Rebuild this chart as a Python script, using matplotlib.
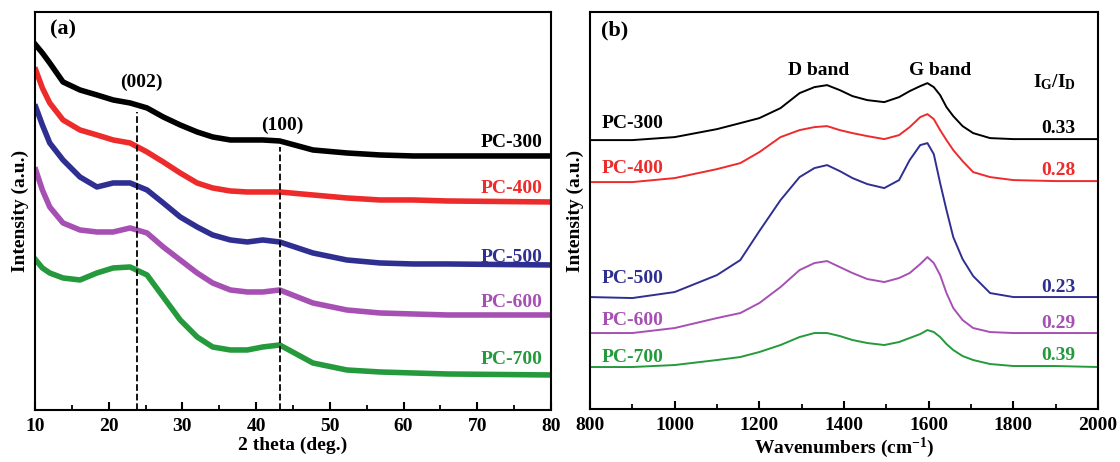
import numpy as np
import matplotlib
matplotlib.use("Agg")
import matplotlib.pyplot as plt
from matplotlib.ticker import MultipleLocator

plt.rcParams['font.family'] = ['Liberation Serif', 'DejaVu Serif']
plt.rcParams['font.weight'] = 'bold'
plt.rcParams['axes.labelweight'] = 'bold'
plt.rcParams['mathtext.fontset'] = 'custom'
plt.rcParams['mathtext.rm'] = 'Liberation Serif:bold'
plt.rcParams['mathtext.it'] = 'Liberation Serif:bold'
plt.rcParams['mathtext.bf'] = 'Liberation Serif:bold'

# --- XRD data (panel a) ---
two_theta = [10.1, 11.0, 12.0, 13.8, 16.1, 18.4, 20.6, 22.9, 25.2, 27.4, 29.7, 32.0,
             34.1, 36.5, 38.8, 40.9, 43.2, 47.7, 52.3, 56.8, 61.3, 65.9, 80.0]
xrd_300 = [365, 357, 347, 328, 320, 315, 310, 307, 302, 293, 285, 278,
           273, 270, 270, 270, 269, 260, 257, 255, 254, 254, 254]
xrd_400 = [340, 322, 307, 290, 280, 275, 270, 267, 258, 248, 237, 227,
           222, 219, 218, 218, 218, 215, 212, 210, 210, 209, 208]
xrd_500 = [303, 285, 267, 250, 233, 223, 227, 227, 220, 207, 193, 183,
           175, 170, 168, 170, 168, 157, 150, 147, 146, 146, 145]
xrd_600 = [240, 220, 203, 187, 180, 178, 178, 182, 177, 163, 150, 137,
           127, 120, 118, 118, 120, 107, 100, 97, 96, 95, 95]
xrd_700 = [150, 142, 137, 132, 130, 137, 142, 143, 135, 113, 90, 73,
           63, 60, 60, 63, 65, 47, 40, 38, 37, 36, 35]

# --- Raman data (panel b) ---
wavenumber = [800, 900, 1000, 1100, 1155, 1200, 1250, 1295, 1330, 1360, 1390,
              1420, 1455, 1495, 1530, 1555, 1580, 1597, 1612, 1627, 1642, 1658,
              1680, 1705, 1745, 1800, 1900, 2000]
raman_300 = [269, 269, 272, 280, 286, 291, 301, 316, 322, 324, 319,
             313, 309, 307, 312, 318, 323, 326, 322, 314, 302, 293,
             283, 276, 271, 270, 270, 270]
raman_400 = [227, 227, 231, 240, 246, 257, 272, 279, 282, 283, 279,
             276, 273, 270, 274, 282, 292, 295, 290, 279, 269, 259,
             248, 237, 232, 229, 228, 228]
raman_500 = [112, 111, 117, 134, 149, 178, 209, 232, 241, 244, 238,
             231, 225, 221, 229, 249, 264, 266, 255, 226, 199, 172,
             150, 133, 116, 112, 112, 112]
raman_600 = [76, 76, 81, 91, 96, 106, 122, 139, 146, 148, 142,
             136, 130, 127, 131, 136, 145, 152, 146, 134, 116, 101,
             89, 81, 77, 76, 76, 76]
raman_700 = [42, 42, 44, 49, 52, 57, 64, 72, 76, 76, 73,
             69, 66, 64, 67, 71, 75, 79, 77, 72, 65, 59,
             53, 49, 45, 43, 43, 42]

samples = ['PC-300', 'PC-400', 'PC-500', 'PC-600', 'PC-700']
ratios = ['0.33', '0.28', '0.23', '0.29', '0.39']
colors = ['black', '#ee2b2b', '#2f2f92', '#a650b4', '#259a3c']

xrd = [xrd_300, xrd_400, xrd_500, xrd_600, xrd_700]
raman = [raman_300, raman_400, raman_500, raman_600, raman_700]

xrd_label_y = [267, 221, 152, 107, 50]
raman_label_y = [286, 241, 131, 89, 52]
ratio_y = [281, 239, 122, 86, 54]

fig = plt.figure(figsize=(11.2, 4.62), dpi=100)
ax1 = fig.add_axes([0.03125, 0.1126, 0.4607, 0.8615])
ax2 = fig.add_axes([0.5268, 0.1147, 0.4536, 0.8590])

fs = 14

# panel (a)
for y, c, name, ly in zip(xrd, colors, samples, xrd_label_y):
    ax1.plot(two_theta, y, color=c, lw=4, solid_joinstyle='round')
    ax1.text(78.9, ly, name, color=c, fontsize=fs, fontweight='bold',
             ha='right', va='center')

ax1.plot([23.8, 23.8], [0, 298], 'k--', lw=1.3)
ax1.plot([43.2, 43.2], [0, 263], 'k--', lw=1.3)
ax1.text(24.4, 328, '(002)', fontsize=fs, ha='center', va='center')
ax1.text(43.6, 285, '(100)', fontsize=fs, ha='center', va='center')
ax1.text(13.8, 380, '(a)', fontsize=16, ha='center', va='center')

ax1.set_xlim(10, 80)
ax1.set_ylim(0, 398)
ax1.xaxis.set_major_locator(MultipleLocator(10))
ax1.xaxis.set_minor_locator(MultipleLocator(5))
ax1.set_yticks([])
ax1.set_xlabel('2 theta (deg.)', fontsize=fs, labelpad=1)
ax1.set_ylabel('Intensity (a.u.)', fontsize=fs, labelpad=4)

# panel (b)
for y, c, name, ly, r, ry in zip(raman, colors, samples, raman_label_y, ratios, ratio_y):
    ax2.plot(wavenumber, y, color=c, lw=1.4, solid_joinstyle='round')
    ax2.text(828, ly, name, color=c, fontsize=fs, fontweight='bold',
             ha='left', va='center')
    ax2.text(1946, ry, r, color=c, fontsize=fs, fontweight='bold',
             ha='right', va='center')

ax2.text(1341, 339, 'D band', fontsize=fs, ha='center', va='center')
ax2.text(1627, 339, 'G band', fontsize=fs, ha='center', va='center')
ax2.text(1898, 327, r'$I_G/I_D$', fontsize=fs, ha='center', va='center')
ax2.text(857, 379, '(b)', fontsize=16, ha='center', va='center')

ax2.set_xlim(800, 2000)
ax2.set_ylim(0, 397)
ax2.xaxis.set_major_locator(MultipleLocator(200))
ax2.xaxis.set_minor_locator(MultipleLocator(100))
ax2.set_yticks([])
ax2.set_xlabel(r'Wavenumbers (cm$^{-1}$)', fontsize=fs, labelpad=1)
ax2.set_ylabel('Intensity (a.u.)', fontsize=fs, labelpad=4)

for ax in (ax1, ax2):
    for s in ax.spines.values():
        s.set_linewidth(1.5)
    ax.tick_params(axis='x', which='major', direction='in', length=6, width=1.5,
                   labelsize=fs, pad=6)
    ax.tick_params(axis='x', which='minor', direction='in', length=3.5, width=1.3)
    for lab in ax.get_xticklabels():
        lab.set_fontweight('bold')

fig.savefig('out.png', dpi=100)
